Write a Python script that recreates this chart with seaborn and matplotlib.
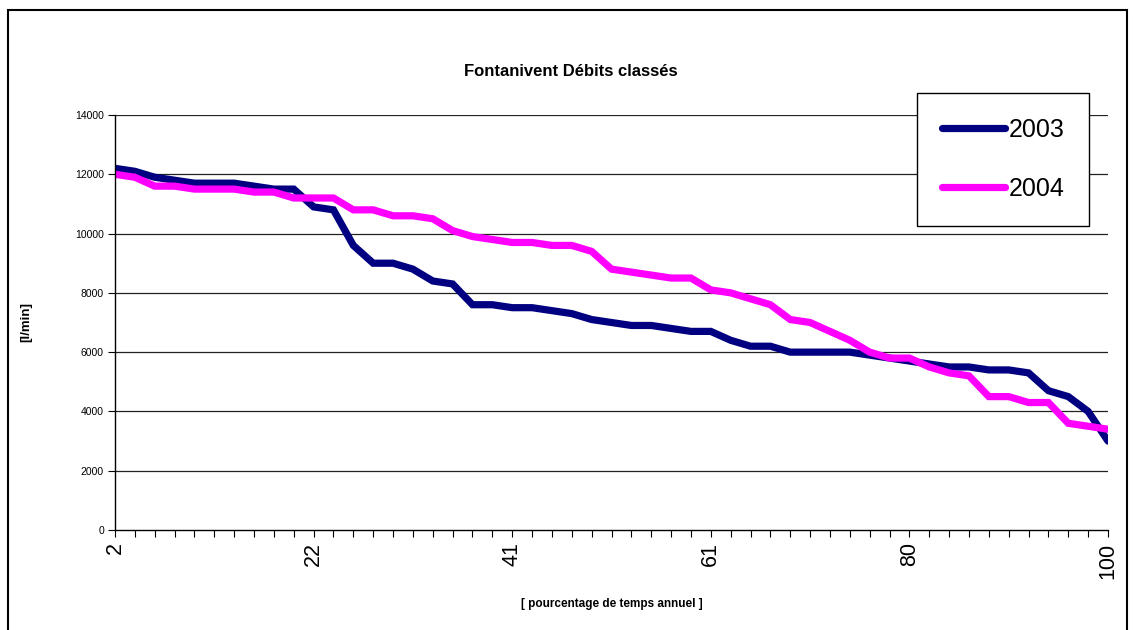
import matplotlib
matplotlib.use("Agg")
import matplotlib.pyplot as plt
import seaborn as sns
import pandas as pd
from matplotlib.lines import Line2D
from matplotlib.patches import Rectangle

categories = [2, 4, 6, 8, 10, 12, 14, 16, 18, 20, 22, 24, 26, 27, 29, 31, 33, 35, 37, 39,
              41, 43, 45, 47, 49, 51, 53, 55, 57, 59, 61, 63, 65, 67, 69, 71, 73, 75, 76, 78,
              80, 82, 84, 86, 88, 90, 92, 94, 96, 98, 100]

debit_2003 = [12200, 12100, 11900, 11800, 11700, 11700, 11700, 11600, 11500, 11500,
              10900, 10800, 9600, 9000, 9000, 8800, 8400, 8300, 7600, 7600,
              7500, 7500, 7400, 7300, 7100, 7000, 6900, 6900, 6800, 6700,
              6700, 6400, 6200, 6200, 6000, 6000, 6000, 6000, 5900, 5800,
              5700, 5600, 5500, 5500, 5400, 5400, 5300, 4700, 4500, 4000, 3000]

debit_2004 = [12000, 11900, 11600, 11600, 11500, 11500, 11500, 11400, 11400, 11200,
              11200, 11200, 10800, 10800, 10600, 10600, 10500, 10100, 9900, 9800,
              9700, 9700, 9600, 9600, 9400, 8800, 8700, 8600, 8500, 8500,
              8100, 8000, 7800, 7600, 7100, 7000, 6700, 6400, 6000, 5800,
              5800, 5500, 5300, 5200, 4500, 4500, 4300, 4300, 3600, 3500, 3400]

series_names = ["2003", "2004"]
series_colors = ["#000080", "#FF00FF"]
y_ticks = [0, 2000, 4000, 6000, 8000, 10000, 12000, 14000]

n = len(categories)
df = pd.DataFrame({
    "pos": list(range(n)) * 2,
    "debit": debit_2003 + debit_2004,
    "annee": [series_names[0]] * n + [series_names[1]] * n,
})

sns.set_theme(style="white")
plt.rcParams["font.family"] = ["Liberation Sans", "DejaVu Sans"]
plt.rcParams["text.color"] = "black"
plt.rcParams["axes.labelcolor"] = "black"
plt.rcParams["xtick.color"] = "black"
plt.rcParams["ytick.color"] = "black"

fig = plt.figure(figsize=(11.33, 6.3), dpi=100)
ax = fig.add_axes([115 / 1133, 1 - 530 / 630, 993 / 1133, 415 / 630])

sns.lineplot(data=df, x="pos", y="debit", hue="annee", palette=series_colors,
             linewidth=5.2, ax=ax, legend=False, solid_joinstyle="miter")

ax.set_xlim(0, n - 1)
ax.set_ylim(0, 14000)
ax.set_yticks(y_ticks)
ax.set_yticklabels([str(v) for v in y_ticks], fontsize=7.5)
ax.set_xticks(list(range(n)))
ax.set_xticklabels([str(c) if i % 10 == 0 else "" for i, c in enumerate(categories)],
                   rotation=90, fontsize=15.5)
ax.tick_params(axis="both", which="major", direction="out", length=5, width=0.8,
               color="black", bottom=True, left=True)
ax.tick_params(axis="x", pad=4)
ax.tick_params(axis="y", pad=3)

for v in y_ticks[1:]:
    ax.axhline(v, color="#222222", linewidth=0.9, zorder=0.5)

for s in ["top", "right"]:
    ax.spines[s].set_visible(False)
for s in ["left", "bottom"]:
    ax.spines[s].set_color("black")
    ax.spines[s].set_linewidth(1.0)

ax.set_xlabel("[ pourcentage de temps annuel ]", fontsize=8.5, fontweight="bold")
ax.set_ylabel("[l/min]", fontsize=9.5, fontweight="bold")
ax.xaxis.set_label_coords((612 - 115) / 993, -(598 - 530) / 415)
ax.yaxis.set_label_coords(-(115 - 32) / 993, (530 - 322) / 415)

fig.text(571 / 1133, 1 - 72 / 630, "Fontanivent Débits classés", ha="center", va="center",
         fontsize=12, fontweight="bold")

handles = [Line2D([0], [0], color=c, linewidth=5.2, solid_capstyle="round") for c in series_colors]
leg = ax.legend(handles, series_names, loc="upper left",
                bbox_to_anchor=(917 / 1133, 1 - 93 / 630), bbox_transform=fig.transFigure,
                fontsize=18, frameon=True, fancybox=False, borderaxespad=0,
                handlelength=2.5, handletextpad=0.15, labelspacing=1.4, borderpad=1.0)
leg.get_frame().set_edgecolor("black")
leg.get_frame().set_linewidth(1.0)
leg.get_frame().set_facecolor("white")
leg.get_frame().set_alpha(1)

fig.patches.append(Rectangle((8 / 1133, -0.1), (1127 - 8) / 1133, 1.1 - 10 / 630,
                             transform=fig.transFigure, fill=False, edgecolor="black",
                             linewidth=1.5))

fig.savefig("out.png", dpi=100)
